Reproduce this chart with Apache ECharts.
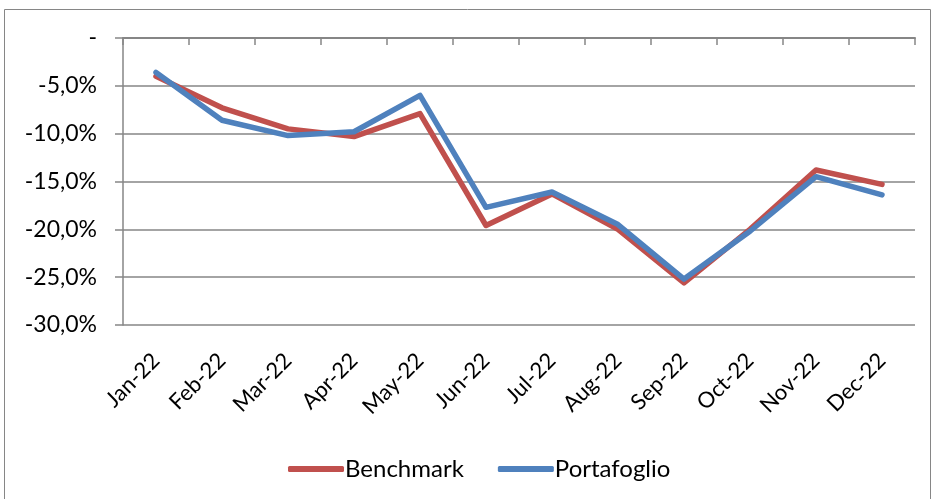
<!DOCTYPE html>
<html><head><meta charset="utf-8">
<script src="https://cdn.jsdelivr.net/npm/echarts@6/dist/echarts.min.js"></script>
<style>html,body{margin:0;padding:0;background:#fff}#c{width:933px;height:499px}</style>
</head><body><div id="c"></div>
<script>
const categories = ['Jan-22','Feb-22','Mar-22','Apr-22','May-22','Jun-22','Jul-22','Aug-22','Sep-22','Oct-22','Nov-22','Dec-22'];
const benchmark = [-4.0, -7.3, -9.5, -10.3, -7.9, -19.6, -16.3, -20.0, -25.6, -20.0, -13.8, -15.3];
const portafoglio = [-3.6, -8.6, -10.2, -9.8, -6.0, -17.7, -16.1, -19.5, -25.2, -20.2, -14.5, -16.4];
const yMin = -30, yMax = 0, yStep = 5;

const chart = echarts.init(document.getElementById('c'), null, {renderer:'canvas'});
const font = 'Lato, "Open Sans", sans-serif';
chart.setOption({
  animation:false,
  backgroundColor:'#fff',
  graphic:[{type:'rect', shape:{x:4.5,y:9.5,width:926,height:500}, style:{fill:null, stroke:'#868686', lineWidth:1}, silent:true}],
  grid:{left:123, right:18, top:38, bottom:174},
  legend:{
    top:452, left:283, itemWidth:56, itemHeight:6, itemGap:34,
    icon:'roundRect',
    textStyle:{fontFamily:font, fontSize:24, color:'#000', padding:[0,0,0,-4]},
    data:['Benchmark','Portafoglio']
  },
  xAxis:[{
    type:'category', data:categories, position:'bottom', boundaryGap:true,
    axisLine:{show:false}, axisTick:{show:false},
    axisLabel:{rotate:45, margin:32, fontFamily:font, fontSize:22, color:'#000', interval:0}
  },{
    type:'category', data:categories, position:'top', boundaryGap:true,
    axisLine:{show:true, lineStyle:{color:'#868686', width:2}},
    axisTick:{show:true, inside:true, length:7, interval:0, lineStyle:{color:'#868686', width:1.5}},
    axisLabel:{show:false}
  }],
  yAxis:{
    type:'value', min:yMin, max:yMax, interval:yStep,
    axisLine:{show:true, lineStyle:{color:'#868686', width:1.5}},
    axisTick:{show:true, length:8, lineStyle:{color:'#868686', width:1.5}},
    splitLine:{show:true, lineStyle:{color:'#868686', width:1.5}},
    axisLabel:{margin:26, fontFamily:font, fontSize:23, color:'#000',
      formatter:v => v === 0 ? '-' : v.toFixed(1).replace('.', ',') + '%'}
  },
  series:[
    {name:'Benchmark', type:'line', data:benchmark, xAxisIndex:0, symbol:'none',
     lineStyle:{color:'#C0504D', width:5.5, cap:'round', join:'round'}, itemStyle:{color:'#C0504D'}},
    {name:'Portafoglio', type:'line', data:portafoglio, xAxisIndex:0, symbol:'none',
     lineStyle:{color:'#4F81BD', width:5.5, cap:'round', join:'round'}, itemStyle:{color:'#4F81BD'}}
  ]
});
</script></body></html>
